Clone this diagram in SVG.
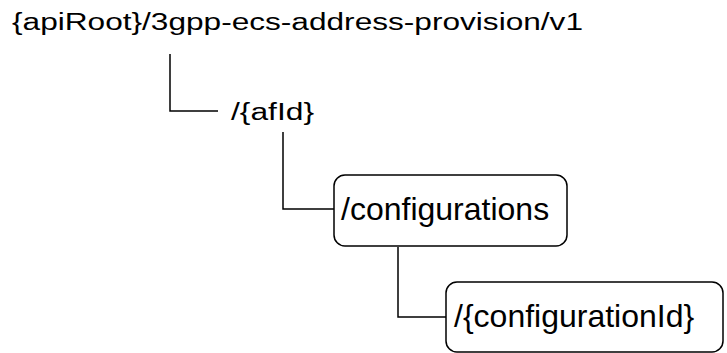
<svg xmlns="http://www.w3.org/2000/svg" width="727" height="353" viewBox="0 0 727 353">
<style>
.t{font-family:"Liberation Sans",Arial,sans-serif;fill:#000}
.s{font-size:23px}
.b{font-size:32px}
.box{fill:#fff;stroke:#000;stroke-width:1.5}
.ln{fill:none;stroke:#000;stroke-width:1.5}
</style>
<rect width="727" height="353" fill="#fff"/>
<g id="connectors">
<path class="ln" d="M170,54 V111 H218"/>
<path class="ln" d="M283,132 V209 H334"/>
<path class="ln" d="M398,247 V317 H446"/>
</g>
<g id="root">
<text class="t s" x="12" y="30" textLength="571" lengthAdjust="spacingAndGlyphs">{apiRoot}/3gpp-ecs-address-provision/v1</text>
</g>
<g id="afId">
<text class="t s" x="231" y="120" textLength="83" lengthAdjust="spacingAndGlyphs">/{afId}</text>
</g>
<g id="configurations">
<rect class="box" x="334" y="175" width="233" height="71" rx="11"/>
<text class="t b" x="341" y="220">/configurations</text>
</g>
<g id="configurationId">
<rect class="box" x="446" y="282" width="277" height="70" rx="11"/>
<text class="t b" x="454" y="327">/{configurationId}</text>
</g>
</svg>
